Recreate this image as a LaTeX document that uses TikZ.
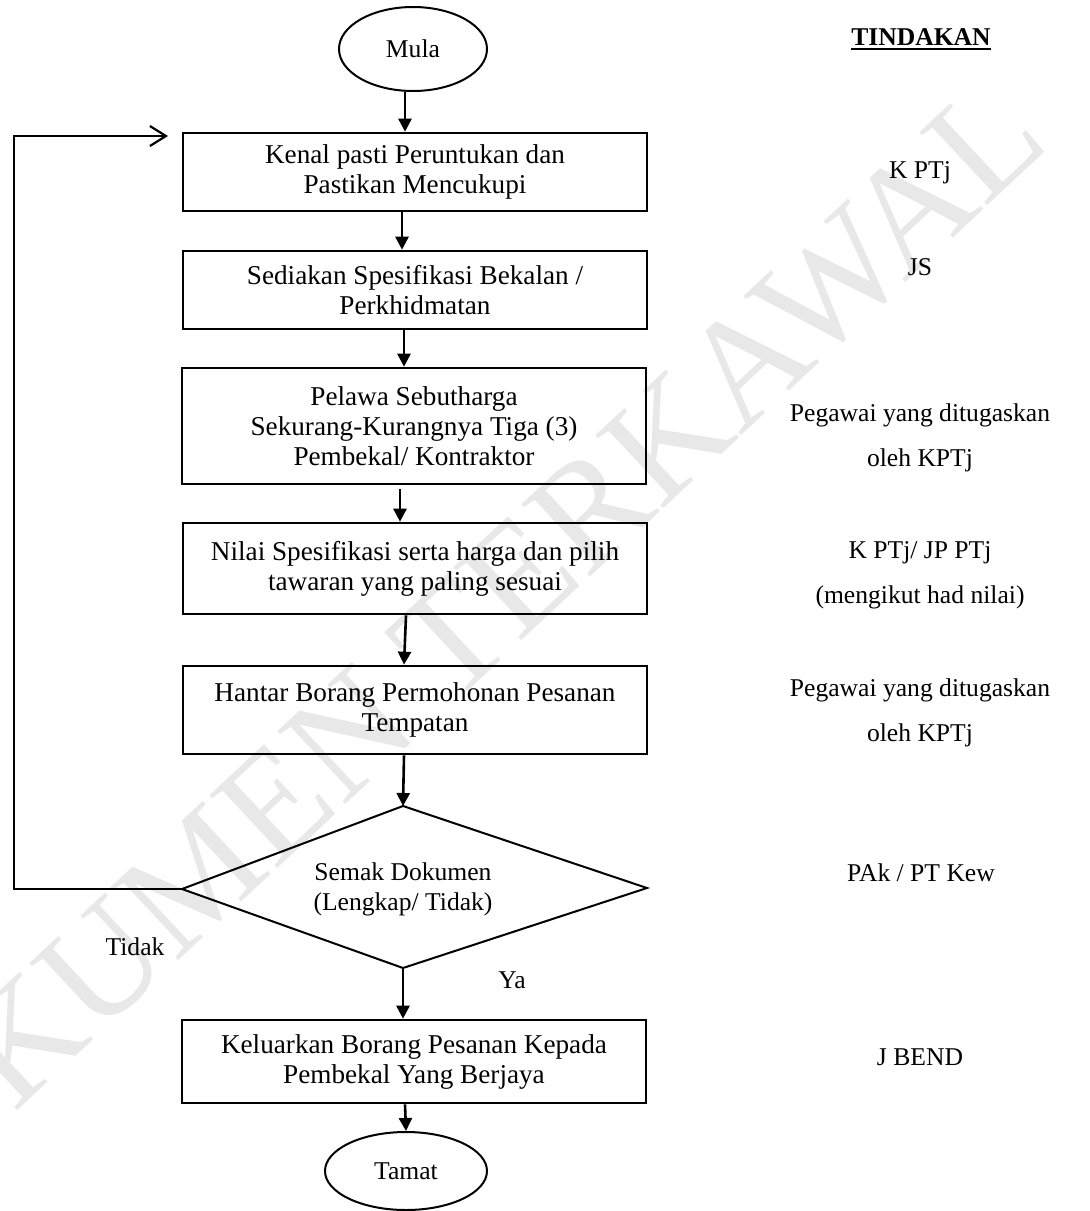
\documentclass[tikz,border=0pt]{standalone}
\usepackage{fontspec}
\setmainfont{Liberation Serif}
\usetikzlibrary{shapes.geometric,arrows.meta,calc}
\begin{document}
\begin{tikzpicture}[x=0.5pt,y=-0.5pt,
  txt/.style={font=\fontsize{12.8}{15}\selectfont},
  btxt/.style={font=\fontsize{13.6}{15}\selectfont},
  box/.style={draw,line width=1.3pt,rectangle,minimum width=232pt,inner sep=0pt,align=center,btxt},
  term/.style={draw,line width=1pt,ellipse,inner sep=0pt,txt},
  arr/.style={line width=1.3pt,-{Triangle[length=6.5pt,width=6.5pt]}},
  act/.style={align=center,font=\fontsize{12.8}{22.5}\selectfont},
]
\useasboundingbox[fill=white] (0,0) rectangle (1089,1211);
% watermark
\begin{scope}
\clip (0,0) rectangle (1089,1211);
\node[text=black!9,rotate=43,font=\fontsize{76}{80}\selectfont,inner sep=0pt] (wm) at (420,668) {DOKUMEN TERKAWAL};
\end{scope}

% flow nodes
\node[term,minimum width=74pt,minimum height=42pt] (mula) at (413,49) {Mula};
\node[box,minimum height=39pt] (b1) at (415,172) {Kenal pasti Peruntukan dan\\Pastikan Mencukupi};
\node[box,minimum height=39pt] (b2) at (415,290) {Sediakan Spesifikasi Bekalan /\\Perkhidmatan};
\node[box,minimum height=58pt] (b3) at (414,426) {Pelawa Sebutharga\\Sekurang-Kurangnya Tiga (3)\\Pembekal/ Kontraktor};
\node[box,minimum height=45.5pt] (b4) at (415,568.5) {Nilai Spesifikasi serta harga dan pilih\\tawaran yang paling sesuai};
\node[box,minimum height=44pt] (b5) at (415,710) {Hantar Borang Permohonan Pesanan\\Tempatan};
\coordinate (dt) at (403,806);
\coordinate (dr) at (647,888);
\coordinate (db) at (403,968);
\coordinate (dl) at (182,889);
\draw[line width=1pt] (dt) -- (dr) -- (db) -- (dl) -- cycle;
\node[txt,align=center,inner sep=0pt] (dec) at (403,889) {Semak Dokumen\\(Lengkap/ Tidak)};
\node[box,minimum height=41.5pt] (b6) at (414,1061.5) {Keluarkan Borang Pesanan Kepada\\Pembekal Yang Berjaya};
\node[term,minimum width=81pt,minimum height=39pt] (tamat) at (406,1171) {Tamat};

% connectors
\draw[arr] ($(mula.south)+(-8,0)$) -- ($(b1.north)+(-10,0)$);
\draw[arr] ($(b1.south)+(-13,0)$) -- ($(b2.north)+(-13,0)$);
\draw[arr] ($(b2.south)+(-11,0)$) -- ($(b3.north)+(-10,0)$);
\draw[arr] ($(b3.south)+(-14,4)$) -- ($(b4.north)+(-15,0)$);
\draw[arr] ($(b4.south)+(-9,0)$) -- ($(b5.north)+(-11,0)$);
\draw[arr] ($(b5.south)+(-11,0)$) -- (dt);
\draw[arr] (db) -- (db |- b6.north);
\draw[arr] ($(b6.south)+(-9,0)$) -- (tamat.north);

% feedback loop
\coordinate (fa) at (14,889);
\coordinate (fb) at (14,136);
\coordinate (fend) at (168,136);
\draw[line width=1.3pt,-{Straight Barb[length=8pt,width=10pt,line width=1.1pt]}] (dl) -- (fa) -- (fb) -- (fend);

\node[txt] (tidak) at (135,947) {Tidak};
\node[txt] (ya) at (512,980) {Ya};

% action column
\node[txt,inner sep=0pt,anchor=base] (tind) at (921,45) {\textbf{TINDAKAN}};
\draw[line width=1.2pt] ([yshift=-2pt]tind.base west) -- ([yshift=-2pt]tind.base east);
\node[act] (a1) at (920,173) {K PTj};
\node[act] (a2) at (920,267) {JS};
\node[act] (a3) at (920,437.5) {Pegawai yang ditugaskan\\oleh KPTj};
\node[act] (a4) at (920,575) {K PTj/ JP PTj\\(mengikut had nilai)};
\node[act] (a5) at (920,712.5) {Pegawai yang ditugaskan\\oleh KPTj};
\node[act] (a6) at (921,873) {PAk / PT Kew};
\node[act] (a7) at (920,1057) {J BEND};
\end{tikzpicture}
\end{document}
